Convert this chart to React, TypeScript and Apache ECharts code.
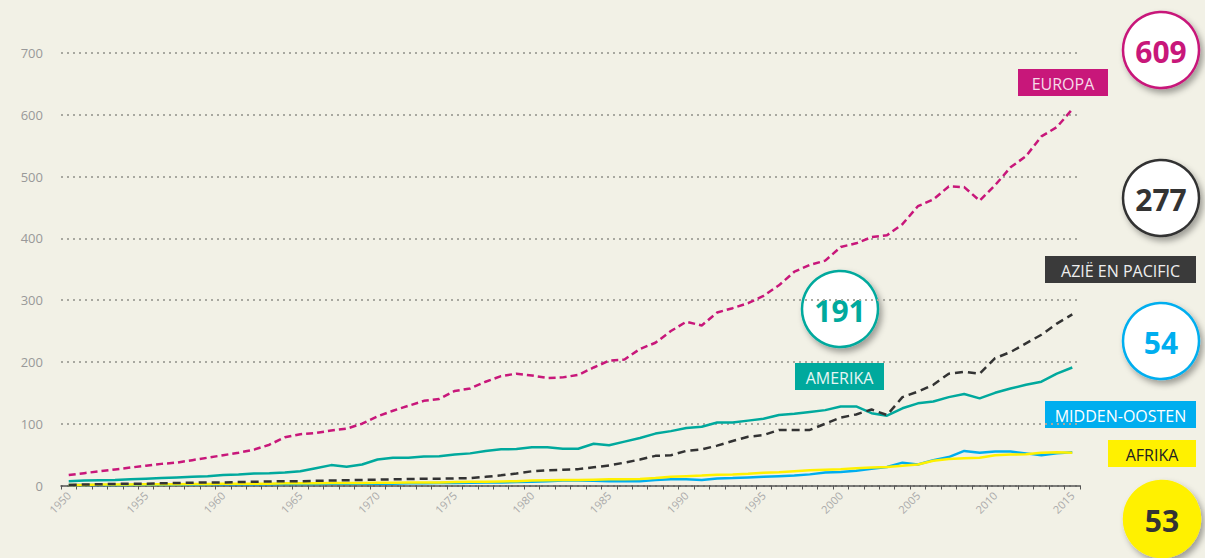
import React, { useEffect, useRef } from "react";
import * as echarts from "echarts";

const years: string[] = [];
for (let y = 1950; y <= 2015; y++) years.push(String(y));

const europa = [
  17, 20, 23, 26, 29, 32, 35, 37, 41, 45,
  49, 53, 58, 66, 78, 83, 85, 89, 92, 100,
  112, 121, 129, 137, 140, 153, 157, 168, 177, 181,
  178, 174, 175, 179, 191, 202, 204, 221, 231, 250,
  265, 259, 280, 287, 295, 307, 324, 346, 357, 364,
  386, 392, 402, 405, 423, 452, 463, 484, 483, 461,
  486, 515, 533, 565, 580, 609,
];

const amerika = [
  7, 8, 8.5, 9, 10, 11, 12, 13, 14, 15,
  17, 18, 19.5, 20, 21, 23, 28, 33, 30.5, 34,
  42, 45, 45, 47, 47.5, 50, 52, 56, 58.5, 59,
  62, 62, 59.5, 59.5, 67.5, 65, 71, 77, 84, 88,
  93, 95, 102, 102, 105, 108, 114, 116, 119, 122,
  128, 128, 117, 113, 125, 133, 136, 143, 148, 141,
  150, 157, 163, 168, 181, 191,
];

const azie = [
  1, 1.5, 2, 2.5, 3, 3, 3.5, 4, 4.5, 5,
  5, 5.5, 6, 6.5, 7, 7, 7.5, 8, 8.5, 9,
  9.5, 10, 10.5, 11, 11, 11.5, 12, 14, 16.5, 19.5,
  23, 24.5, 25.5, 26.5, 29.5, 32.5, 37, 42, 48, 49,
  56, 58.5, 64.5, 72, 79, 81.5, 90, 90, 90, 100,
  110, 115, 123, 114, 143, 152, 163, 181, 184, 181,
  206, 216, 230, 244, 262, 277,
];

const middenOosten = [
  1, 1, 1, 1, 1, 1.5, 1.5, 1.5, 1.5, 2,
  2, 2, 2, 2, 2.5, 2.5, 2.5, 3, 3, 3,
  3, 3, 3.5, 3.5, 4, 4, 4.5, 5, 5, 5.5,
  6, 7, 8, 8, 7.5, 7, 7, 7, 9, 10,
  10, 9, 11.5, 12, 13, 14, 15, 16, 18, 21,
  22, 24, 27, 30, 37, 34, 41, 46, 56, 53,
  55, 55, 52, 49, 52, 54,
];

const afrika = [
  1, 1, 1.5, 1.5, 1.5, 2, 2, 2, 2.5, 2.5,
  3, 3, 3, 3, 3.5, 3.5, 3.5, 4, 4, 4,
  4.5, 4.5, 5, 5, 5, 5.5, 6, 6, 6.5, 7,
  8, 8.5, 9, 9, 9.5, 10, 10, 10.5, 12, 14,
  15, 16, 17.5, 18, 19, 20.5, 21.5, 23, 24.5, 25.5,
  26.5, 28, 29, 30, 32, 34, 40, 43, 44, 45,
  49, 50, 50.5, 53, 54, 53,
];

const yTicks = [0, 100, 200, 300, 400, 500, 600, 700];

const C_PINK = "#c8177a";
const C_TEAL = "#00a99d";
const C_DARK = "#333333";
const C_BLUE = "#00aeef";
const C_YELLOW = "#fff100";
const BG = "#f2f1e6";
const FONT = '"Open Sans", "DejaVu Sans", sans-serif';

function bubble(cx: number, cy: number, value: string, stroke: string, fill: string, textColor: string) {
  return {
    type: "group",
    children: [
      {
        type: "circle",
        shape: { cx, cy, r: 38 },
        style: {
          fill,
          stroke,
          lineWidth: 2.5,
          shadowBlur: 6,
          shadowOffsetX: 3,
          shadowOffsetY: 4,
          shadowColor: "rgba(0,0,0,0.35)",
        },
      },
      {
        type: "text",
        x: cx,
        y: cy + 1,
        style: {
          text: value,
          fill: textColor,
          font: `bold 30px ${FONT}`,
          textAlign: "center",
          textVerticalAlign: "middle",
        },
      },
    ],
  };
}

function tag(x: number, y: number, w: number, h: number, label: string, bg: string, color: string) {
  return {
    type: "group",
    children: [
      { type: "rect", shape: { x, y, width: w, height: h }, style: { fill: bg } },
      {
        type: "text",
        x: x + w / 2,
        y: y + h / 2 + 1,
        style: {
          text: label,
          fill: color,
          font: `16px ${FONT}`,
          textAlign: "center",
          textVerticalAlign: "middle",
        },
      },
    ],
  };
}

export default function App() {
  const ref = useRef<HTMLDivElement>(null);
  useEffect(() => {
    document.body.style.margin = "0";
    if (!ref.current) return;
    const chart = echarts.init(ref.current, undefined, { renderer: "svg" });
    const lineSeries = (name: string, data: number[], color: string, dash: any) => ({
      name,
      type: "line",
      data,
      symbol: "none",
      smooth: false,
      lineStyle: { color, width: 2.5, type: dash },
      itemStyle: { color },
    });
    chart.setOption({
      animation: false,
      backgroundColor: BG,
      grid: { left: 61, right: 125, top: 53, bottom: 72.5 },
      xAxis: {
        type: "category",
        data: years,
        boundaryGap: true,
        axisLine: { show: true, lineStyle: { color: "#555", width: 1.5 } },
        axisTick: { show: true, interval: 0, length: 4, lineStyle: { color: "#555", width: 1 } },
        axisLabel: {
          interval: 4,
          rotate: 45,
          fontSize: 11,
          color: "#aaa",
          fontFamily: FONT,
          margin: 8,
        },
        splitLine: { show: false },
      },
      yAxis: {
        type: "value",
        min: yTicks[0],
        max: yTicks[yTicks.length - 1],
        interval: 100,
        axisLine: { show: false },
        axisTick: { show: false },
        axisLabel: { fontSize: 13, color: "#999", fontFamily: FONT, margin: 18 },
        splitLine: { show: true, lineStyle: { color: "#a8a8a0", width: 2, type: [2, 4] } },
      },
      series: [
        lineSeries("Midden-Oosten", middenOosten, C_BLUE, "solid"),
        lineSeries("Afrika", afrika, C_YELLOW, "solid"),
        lineSeries("Amerika", amerika, C_TEAL, "solid"),
        lineSeries("Azië en Pacific", azie, C_DARK, [8, 5]),
        lineSeries("Europa", europa, C_PINK, [7, 4]),
      ],
      graphic: [
        tag(1018, 69, 90, 27, "EUROPA", C_PINK, "#f6dbe9"),
        tag(1045, 256, 151, 27, "AZIË EN PACIFIC", "#3a3a3a", "#eeeeee"),
        tag(795, 363, 89, 27, "AMERIKA", C_TEAL, "#e6f6f4"),
        tag(1045, 401, 151, 27, "MIDDEN-OOSTEN", C_BLUE, "#ffffff"),
        tag(1108, 440, 88, 27, "AFRIKA", C_YELLOW, "#222222"),
        bubble(1161, 50, "609", C_PINK, "#ffffff", C_PINK),
        bubble(1161, 198, "277", C_DARK, "#ffffff", C_DARK),
        bubble(840, 309, "191", C_TEAL, "#ffffff", C_TEAL),
        bubble(1161, 341, "54", C_BLUE, "#ffffff", C_BLUE),
        bubble(1162, 519, "53", C_YELLOW, C_YELLOW, C_DARK),
      ],
    });
    return () => chart.dispose();
  }, []);
  return <div ref={ref} style={{ width: 1205, height: 558 }} />;
}
